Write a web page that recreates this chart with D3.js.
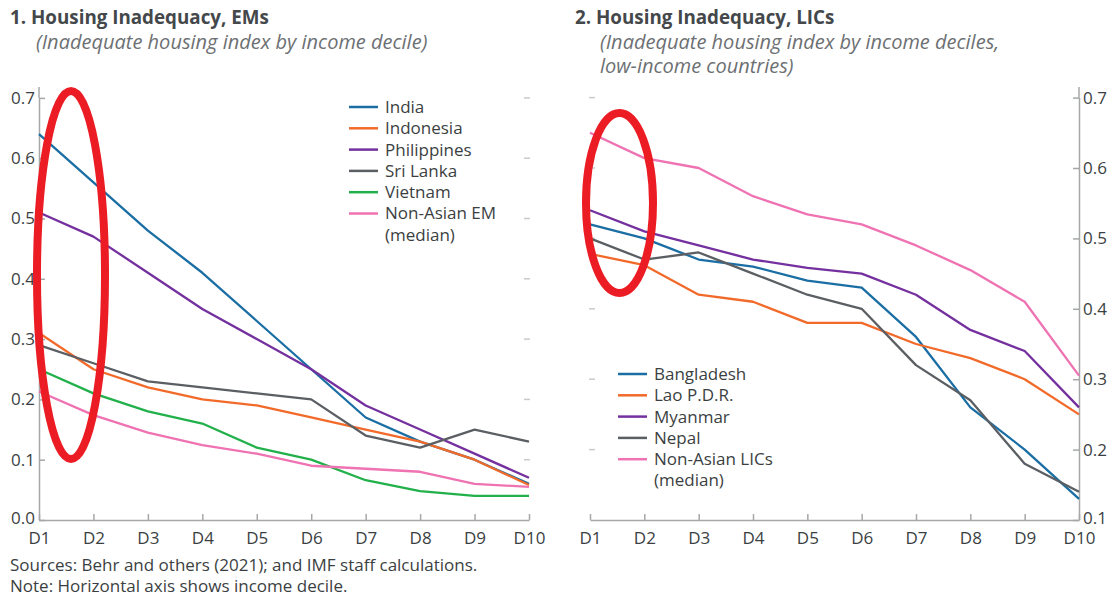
<!DOCTYPE html>
<html>
<head>
<meta charset="utf-8">
<script src="https://cdn.jsdelivr.net/npm/d3@7"></script>
<style>
  body { margin: 0; background: #fff; }
  svg { display: block; font-family: "Open Sans", Lato, sans-serif; }
</style>
</head>
<body>
<div id="chart"></div>
<script>
// data
var deciles = ["D1", "D2", "D3", "D4", "D5", "D6", "D7", "D8", "D9", "D10"];

var emNames = ["India", "Indonesia", "Philippines", "Sri Lanka", "Vietnam", "Non-Asian EM (median)"];
var india = [0.64, 0.56, 0.48, 0.41, 0.33, 0.25, 0.17, 0.13, 0.10, 0.06];
var indonesia = [0.31, 0.25, 0.22, 0.20, 0.19, 0.17, 0.15, 0.13, 0.10, 0.058];
var philippines = [0.51, 0.47, 0.41, 0.35, 0.30, 0.25, 0.19, 0.15, 0.11, 0.07];
var sriLanka = [0.29, 0.26, 0.23, 0.22, 0.21, 0.20, 0.14, 0.12, 0.15, 0.13];
var vietnam = [0.25, 0.21, 0.18, 0.16, 0.12, 0.10, 0.066, 0.048, 0.04, 0.04];
var nonAsianEM = [0.213, 0.174, 0.145, 0.124, 0.11, 0.09, 0.085, 0.08, 0.06, 0.055];

var licNames = ["Bangladesh", "Lao P.D.R.", "Myanmar", "Nepal", "Non-Asian LICs (median)"];
var bangladesh = [0.52, 0.50, 0.47, 0.46, 0.44, 0.43, 0.36, 0.26, 0.20, 0.13];
var lao = [0.478, 0.462, 0.42, 0.41, 0.38, 0.38, 0.35, 0.33, 0.30, 0.25];
var myanmar = [0.54, 0.51, 0.49, 0.47, 0.458, 0.45, 0.42, 0.37, 0.34, 0.26];
var nepal = [0.50, 0.47, 0.48, 0.45, 0.42, 0.40, 0.32, 0.27, 0.18, 0.14];
var nonAsianLIC = [0.65, 0.614, 0.60, 0.56, 0.534, 0.52, 0.49, 0.455, 0.41, 0.305];

var emTicks = [0.0, 0.1, 0.2, 0.3, 0.4, 0.5, 0.6, 0.7];
var licTicks = [0.1, 0.2, 0.3, 0.4, 0.5, 0.6, 0.7];

var colors = ["#1a6ea3", "#f26a2a", "#74309e", "#5b5f63", "#22b04b", "#ef72b2"];
var licColors = ["#1a6ea3", "#f26a2a", "#74309e", "#5b5f63", "#ef72b2"];

var W = 1112, H = 597;
var svg = d3.select("#chart").append("svg").attr("width", W).attr("height", H);

var textCol = "#3b3f42", axisCol = "#a5a7a9";
var fs = 17;

function panel(opts) {
    var g = svg.append("g");
    var x = d3.scalePoint().domain(deciles).range(opts.xr);
    var y = d3.scaleLinear().domain(opts.yd).range([520, opts.yTop]);

    // faint ticks on the opposite side
    g.selectAll(".faint").data(opts.ticks.filter(function (d) { return d > opts.yd[0]; }))
        .enter().append("line")
        .attr("x1", opts.faintX - 3).attr("x2", opts.faintX + 3)
        .attr("y1", function (d) { return y(d); }).attr("y2", function (d) { return y(d); })
        .attr("stroke", "#c9cacc").attr("stroke-width", 1.5);

    // x axis
    var xa = g.append("g").attr("transform", "translate(0,520)")
        .call(d3.axisBottom(x).tickSizeInner(-6).tickSizeOuter(0).tickPadding(12));
    xa.select(".domain").attr("stroke", axisCol).attr("stroke-width", 1.5);
    xa.selectAll(".tick line").attr("stroke", axisCol).attr("stroke-width", 1.5);
    xa.selectAll("text").attr("font-size", fs).attr("fill", textCol).attr("font-family", "Open Sans");

    // y axis
    var ya;
    if (opts.right) {
        ya = g.append("g").attr("transform", "translate(" + opts.xr[1] + ",0)")
            .call(d3.axisRight(y).tickValues(opts.ticks).tickFormat(d3.format(".1f"))
                .tickSizeInner(-6).tickSizeOuter(0).tickPadding(4));
    } else {
        ya = g.append("g").attr("transform", "translate(" + opts.xr[0] + ",0)")
            .call(d3.axisLeft(y).tickValues(opts.ticks).tickFormat(d3.format(".1f"))
                .tickSizeInner(-6).tickSizeOuter(0).tickPadding(4));
    }
    ya.select(".domain").attr("stroke", axisCol).attr("stroke-width", 1.5);
    ya.selectAll(".tick line").attr("stroke", axisCol).attr("stroke-width", 1.5);
    ya.selectAll("text").attr("font-size", fs).attr("fill", textCol).attr("font-family", "Open Sans");
    // lowest label sits just above the x axis labels
    ya.selectAll(".tick").filter(function (d) { return d === opts.yd[0]; })
        .select("text").attr("dy", "0.2em");

    var line = d3.line().x(function (d, i) { return x(deciles[i]); }).y(function (d) { return y(d); });
    opts.series.forEach(function (s, i) {
        g.append("path").datum(s).attr("d", line)
            .attr("fill", "none").attr("stroke", opts.colors[i]).attr("stroke-width", 2.3)
            .attr("stroke-linejoin", "round");
    });

    // legend
    var lg = g.append("g").attr("transform", "translate(" + opts.legX + "," + opts.legY + ")");
    var row = 0;
    opts.names.forEach(function (n, i) {
        var parts = n.indexOf(" (median)") > 0 ? [n.replace(" (median)", ""), "(median)"] : [n];
        lg.append("line").attr("x1", 0).attr("x2", 29)
            .attr("y1", row * 21.3).attr("y2", row * 21.3)
            .attr("stroke", opts.colors[i]).attr("stroke-width", 2.5);
        parts.forEach(function (p) {
            lg.append("text").attr("x", 36).attr("y", row * 21.3).attr("dy", "0.35em")
                .attr("font-size", fs).attr("fill", textCol).text(p);
            row++;
        });
    });

    // titles
    g.append("text").attr("x", opts.titleX).attr("y", 24).attr("font-size", 18.8)
        .attr("font-weight", "bold").attr("fill", "#44484b").text(opts.title);
    opts.sub.forEach(function (s, i) {
        g.append("text").attr("x", opts.subX).attr("y", 49 + i * 24).attr("font-size", 20)
            .attr("font-style", "italic").attr("fill", "#6d7073").text(s);
    });
}

panel({
    xr: [39, 529], yd: [0, 0.7], yTop: 97.9, ticks: emTicks, faintX: 527,
    series: [india, indonesia, philippines, sriLanka, vietnam, nonAsianEM], colors: colors,
    names: emNames, legX: 349, legY: 107,
    title: "1. Housing Inadequacy, EMs", titleX: 10,
    sub: ["(Inadequate housing index by income decile)"], subX: 36
});

panel({
    xr: [590, 1079], yd: [0.1, 0.7], yTop: 97.6, ticks: licTicks, faintX: 592, right: true,
    series: [bangladesh, lao, myanmar, nepal, nonAsianLIC], colors: licColors,
    names: licNames, legX: 618, legY: 374,
    title: "2. Housing Inadequacy, LICs", titleX: 575,
    sub: ["(Inadequate housing index by income deciles,", "low-income countries)"], subX: 600
});

// axis lines extend a little above the top tick
svg.append("line").attr("x1", 39).attr("x2", 39).attr("y1", 87).attr("y2", 98).attr("stroke", axisCol).attr("stroke-width", 1.5);
svg.append("line").attr("x1", 1079).attr("x2", 1079).attr("y1", 87).attr("y2", 98).attr("stroke", axisCol).attr("stroke-width", 1.5);

// notes
svg.append("text").attr("x", 10).attr("y", 571).attr("font-size", fs).attr("fill", textCol)
    .text("Sources: Behr and others (2021); and IMF staff calculations.");
svg.append("text").attr("x", 10).attr("y", 592).attr("font-size", fs).attr("fill", textCol)
    .text("Note: Horizontal axis shows income decile.");

// red hand-drawn highlight ellipses
svg.append("ellipse").attr("cx", 71).attr("cy", 275).attr("rx", 34).attr("ry", 184)
    .attr("fill", "none").attr("stroke", "#ec1c24").attr("stroke-width", 8);
svg.append("ellipse").attr("cx", 619.5).attr("cy", 203).attr("rx", 33.5).attr("ry", 90)
    .attr("fill", "none").attr("stroke", "#ec1c24").attr("stroke-width", 8);
</script>
</body>
</html>
